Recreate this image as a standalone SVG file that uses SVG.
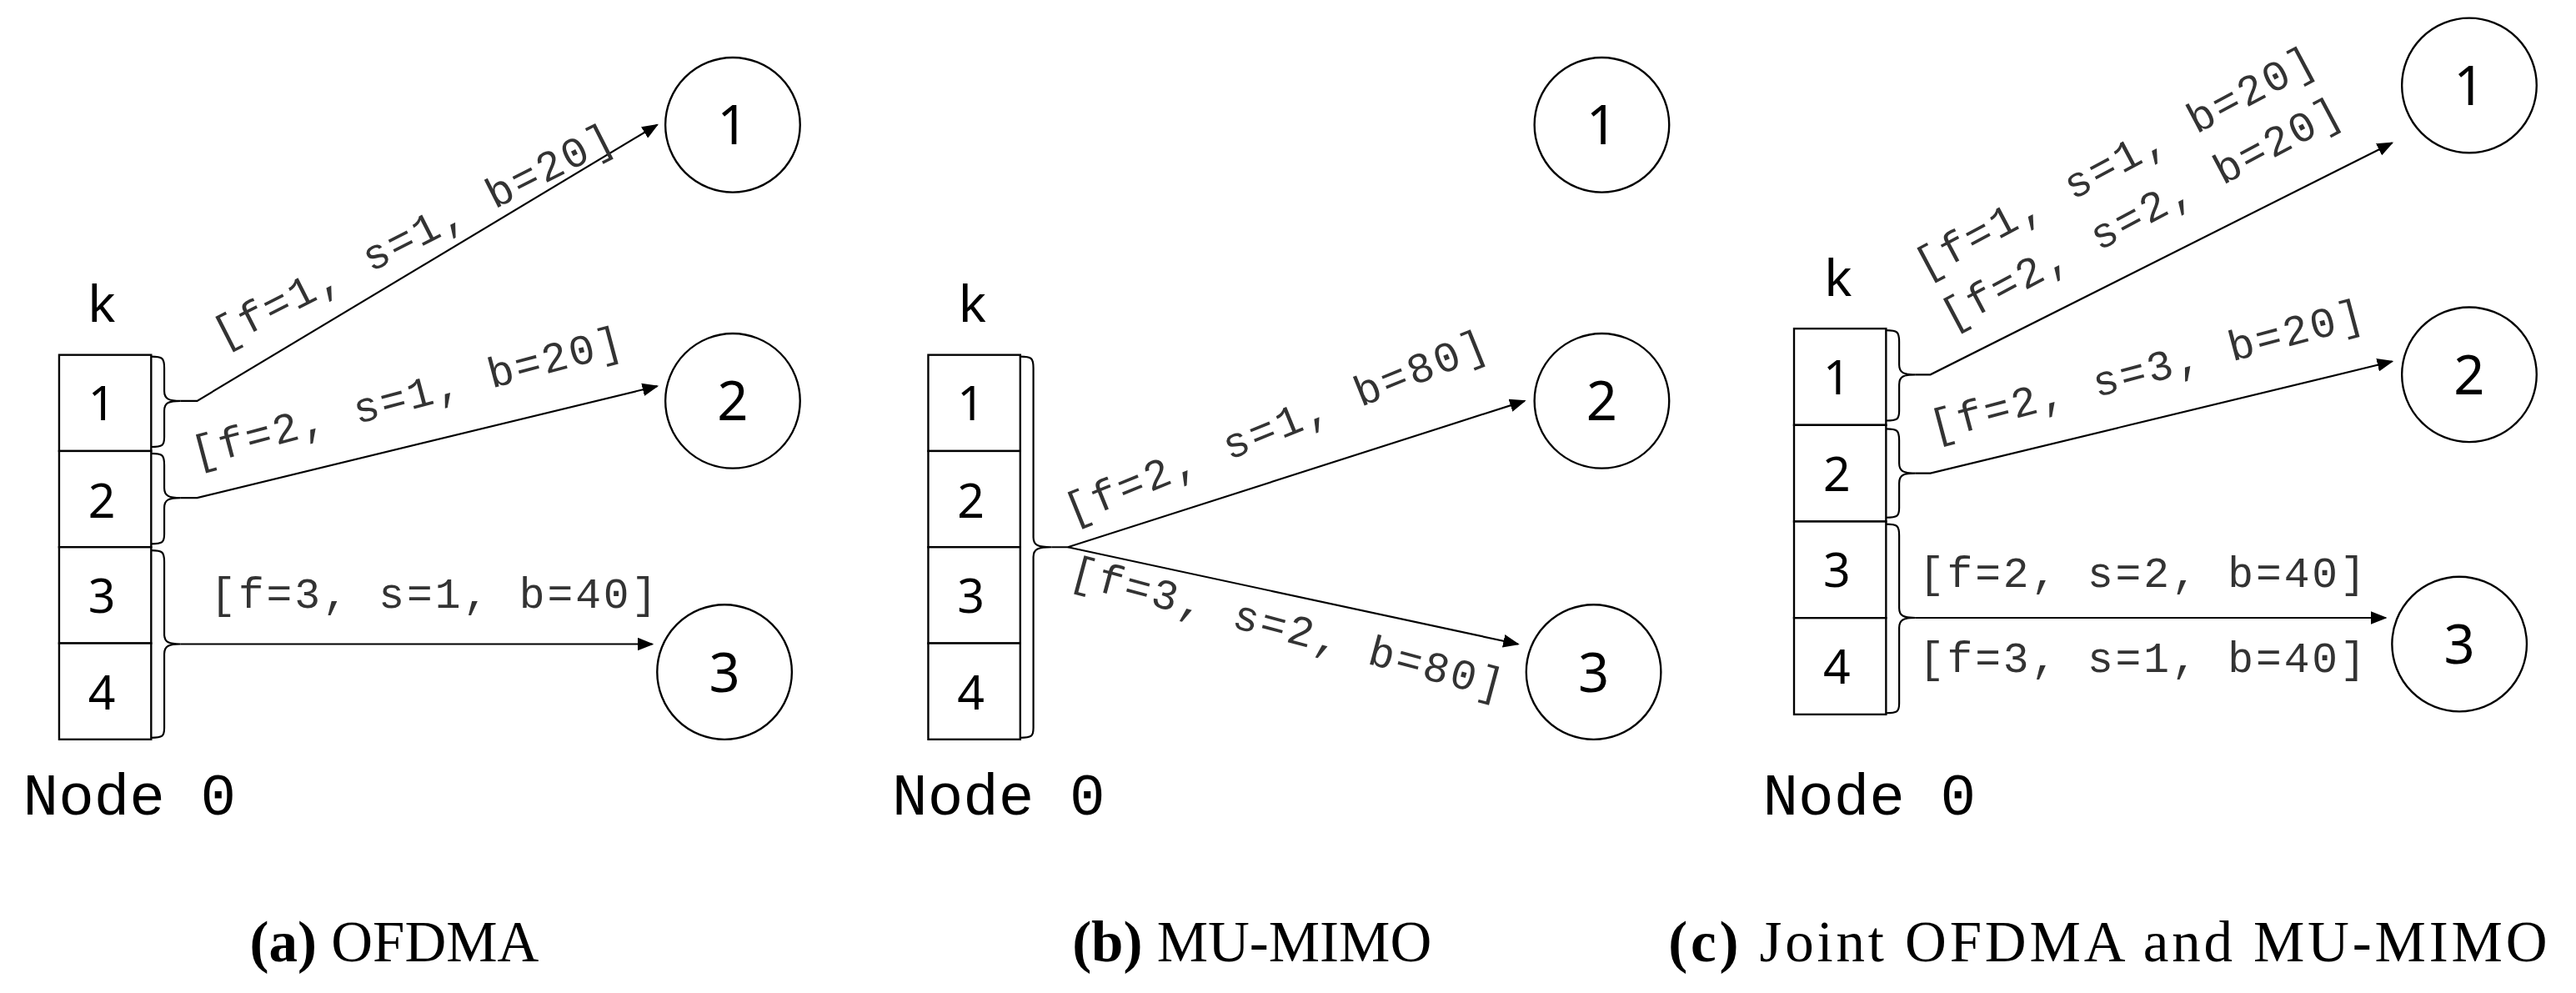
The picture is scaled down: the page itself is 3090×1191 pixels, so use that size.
<svg xmlns="http://www.w3.org/2000/svg" width="3090" height="1191" viewBox="0 0 3090 1191">
<defs>
<marker id="ah" markerWidth="10" markerHeight="8" refX="9" refY="4" orient="auto" markerUnits="userSpaceOnUse"><path d="M0,0 L10,4 L0,8 z" fill="#000"/></marker>
<style>
.ln{stroke:#000;stroke-width:1.1;fill:none}
.box{fill:#fff;stroke:#000;stroke-width:1.2}
.cir{fill:#fff;stroke:#000;stroke-width:1.2}
.lbl{font-family:"Liberation Mono","DejaVu Sans Mono",monospace;font-size:26px;fill:#333}
.num{font-family:"Noto Sans","DejaVu Sans",sans-serif;font-size:29px;text-anchor:middle;fill:#000}
.cn{font-family:"Noto Sans","DejaVu Sans",sans-serif;font-size:33px;text-anchor:middle;fill:#000}
.k{font-family:"Liberation Mono",monospace;font-size:32px;text-anchor:middle;fill:#000}
.n0{font-family:"Liberation Mono",monospace;font-size:36px;fill:#000}
.cap{font-family:"Liberation Serif",serif;font-size:35px;text-anchor:middle;fill:#000}
</style>
</defs>
<g transform="scale(1.9707)">
<!-- Panel a -->
<g id="a-node0">
<text class="k" x="62" y="196">k</text>
<rect class="box" x="36" y="216" width="56" height="58.5"/><rect class="box" x="36" y="274.5" width="56" height="58.5"/><rect class="box" x="36" y="333" width="56" height="58.5"/><rect class="box" x="36" y="391.5" width="56" height="58.5"/>
<text class="num" x="62" y="256">1</text><text class="num" x="62" y="315">2</text><text class="num" x="62" y="373">3</text><text class="num" x="62" y="432">4</text>
<path class="ln" d="M92,217 C99,217 100,218 100,224 L100,238 C100,243 103,244 110,244 M110,244 C103,244 100,245 100,250 L100,266 C100,271 99,272 92,272"/>
<path class="ln" d="M92,276 C99,276 100,277 100,283 L100,297 C100,302 103,303 110,303 M110,303 C103,303 100,304 100,309 L100,325 C100,330 99,331 92,331"/>
<path class="ln" d="M92,335 C99,335 100,336 100,342 L100,386 C100,391 103,392 110,392 M110,392 C103,392 100,393 100,398 L100,443 C100,448 99,449 92,449"/>
<text class="n0" x="14" y="496">Node 0</text>
</g>
<g id="a-n1"><circle class="cir" cx="446" cy="76" r="41"/><text class="cn" x="446" y="88">1</text></g>
<g id="a-n2"><circle class="cir" cx="446" cy="244" r="41"/><text class="cn" x="446" y="256">2</text></g>
<g id="a-n3"><circle class="cir" cx="441" cy="409" r="41"/><text class="cn" x="441" y="421">3</text></g>
<!-- Panel b -->
<g id="b-node0">
<text class="k" x="592" y="196">k</text>
<rect class="box" x="565" y="216" width="56" height="58.5"/><rect class="box" x="565" y="274.5" width="56" height="58.5"/><rect class="box" x="565" y="333" width="56" height="58.5"/><rect class="box" x="565" y="391.5" width="56" height="58.5"/>
<text class="num" x="591" y="256">1</text><text class="num" x="591" y="315">2</text><text class="num" x="591" y="373">3</text><text class="num" x="591" y="432">4</text>
<path class="ln" d="M621,217 C628,217 629,218 629,224 L629,327 C629,332 632,333 640,333 M640,333 C632,333 629,334 629,339 L629,443 C629,448 628,449 621,449"/>
<text class="n0" x="543" y="496">Node 0</text>
</g>
<g id="b-n1"><circle class="cir" cx="975" cy="76" r="41"/><text class="cn" x="975" y="88">1</text></g>
<g id="b-n2"><circle class="cir" cx="975" cy="244" r="41"/><text class="cn" x="975" y="256">2</text></g>
<g id="b-n3"><circle class="cir" cx="970" cy="409" r="41"/><text class="cn" x="970" y="421">3</text></g>
<!-- Panel c -->
<g id="c-node0">
<text class="k" x="1119" y="180">k</text>
<rect class="box" x="1092" y="200" width="56" height="58.7"/><rect class="box" x="1092" y="258.7" width="56" height="58.7"/><rect class="box" x="1092" y="317.4" width="56" height="58.7"/><rect class="box" x="1092" y="376.1" width="56" height="58.7"/>
<text class="num" x="1118" y="240">1</text><text class="num" x="1118" y="299">2</text><text class="num" x="1118" y="357">3</text><text class="num" x="1118" y="416">4</text>
<path class="ln" d="M1148,201 C1155,201 1156,202 1156,208 L1156,222 C1156,227 1159,228 1166,228 M1166,228 C1159,228 1156,229 1156,234 L1156,250 C1156,255 1155,256 1148,256"/>
<path class="ln" d="M1148,261 C1155,261 1156,262 1156,268 L1156,282 C1156,287 1159,288 1166,288 M1166,288 C1159,288 1156,289 1156,294 L1156,309 C1156,314 1155,315 1148,315"/>
<path class="ln" d="M1148,319 C1155,319 1156,320 1156,326 L1156,370 C1156,375 1159,376 1166,376 M1166,376 C1159,376 1156,377 1156,382 L1156,428 C1156,433 1155,434 1148,434"/>
<text class="n0" x="1073" y="496">Node 0</text>
</g>
<g id="c-n1"><circle class="cir" cx="1503" cy="52" r="41"/><text class="cn" x="1503" y="64">1</text></g>
<g id="c-n2"><circle class="cir" cx="1503" cy="228" r="41"/><text class="cn" x="1503" y="240">2</text></g>
<g id="c-n3"><circle class="cir" cx="1497" cy="392" r="41"/><text class="cn" x="1497" y="404">3</text></g>
<!-- Connectors -->
<g id="connectors">
<path class="ln" d="M110,244 L120,244 L400,76" marker-end="url(#ah)"/>
<path class="ln" d="M110,303 L120,303 L400,235" marker-end="url(#ah)"/>
<path class="ln" d="M110,392 L397,392" marker-end="url(#ah)"/>
<path class="ln" d="M640,333 L650,333 L928,244" marker-end="url(#ah)"/>
<path class="ln" d="M650,333 L924,392" marker-end="url(#ah)"/>
<path class="ln" d="M1166,228 L1175,228 L1456,87" marker-end="url(#ah)"/>
<path class="ln" d="M1166,288 L1175,288 L1456,220" marker-end="url(#ah)"/>
<path class="ln" d="M1166,376 L1452,376" marker-end="url(#ah)"/>
</g>
<!-- Labels -->
<text class="lbl" transform="translate(135,212) rotate(-27)" textLength="270">[f=1, s=1, b=20]</text>
<text class="lbl" transform="translate(119,284) rotate(-14.8)" textLength="270">[f=2, s=1, b=20]</text>
<text class="lbl" x="128" y="370" textLength="272">[f=3, s=1, b=40]</text>
<text class="lbl" transform="translate(652,319) rotate(-22)" textLength="275">[f=2, s=1, b=80]</text>
<text class="lbl" transform="translate(650,355) rotate(15)" textLength="272">[f=3, s=2, b=80]</text>
<text class="lbl" transform="translate(1171,170) rotate(-28)" textLength="272">[f=1, s=1, b=20]</text>
<text class="lbl" transform="translate(1187,201) rotate(-28)" textLength="272">[f=2, s=2, b=20]</text>
<text class="lbl" transform="translate(1177,268) rotate(-14.8)" textLength="272">[f=2, s=3, b=20]</text>
<text class="lbl" x="1168" y="357" textLength="272">[f=2, s=2, b=40]</text>
<text class="lbl" x="1168" y="409" textLength="272">[f=3, s=1, b=40]</text>
<!-- Captions -->
<text class="cap" x="240" y="585"><tspan font-weight="bold">(a)</tspan> OFDMA</text>
<text class="cap" x="762" y="585"><tspan font-weight="bold">(b)</tspan> MU-MIMO</text>
<text class="cap" x="1283" y="585" textLength="535"><tspan font-weight="bold">(c)</tspan> Joint OFDMA and MU-MIMO</text>
</g>
</svg>
